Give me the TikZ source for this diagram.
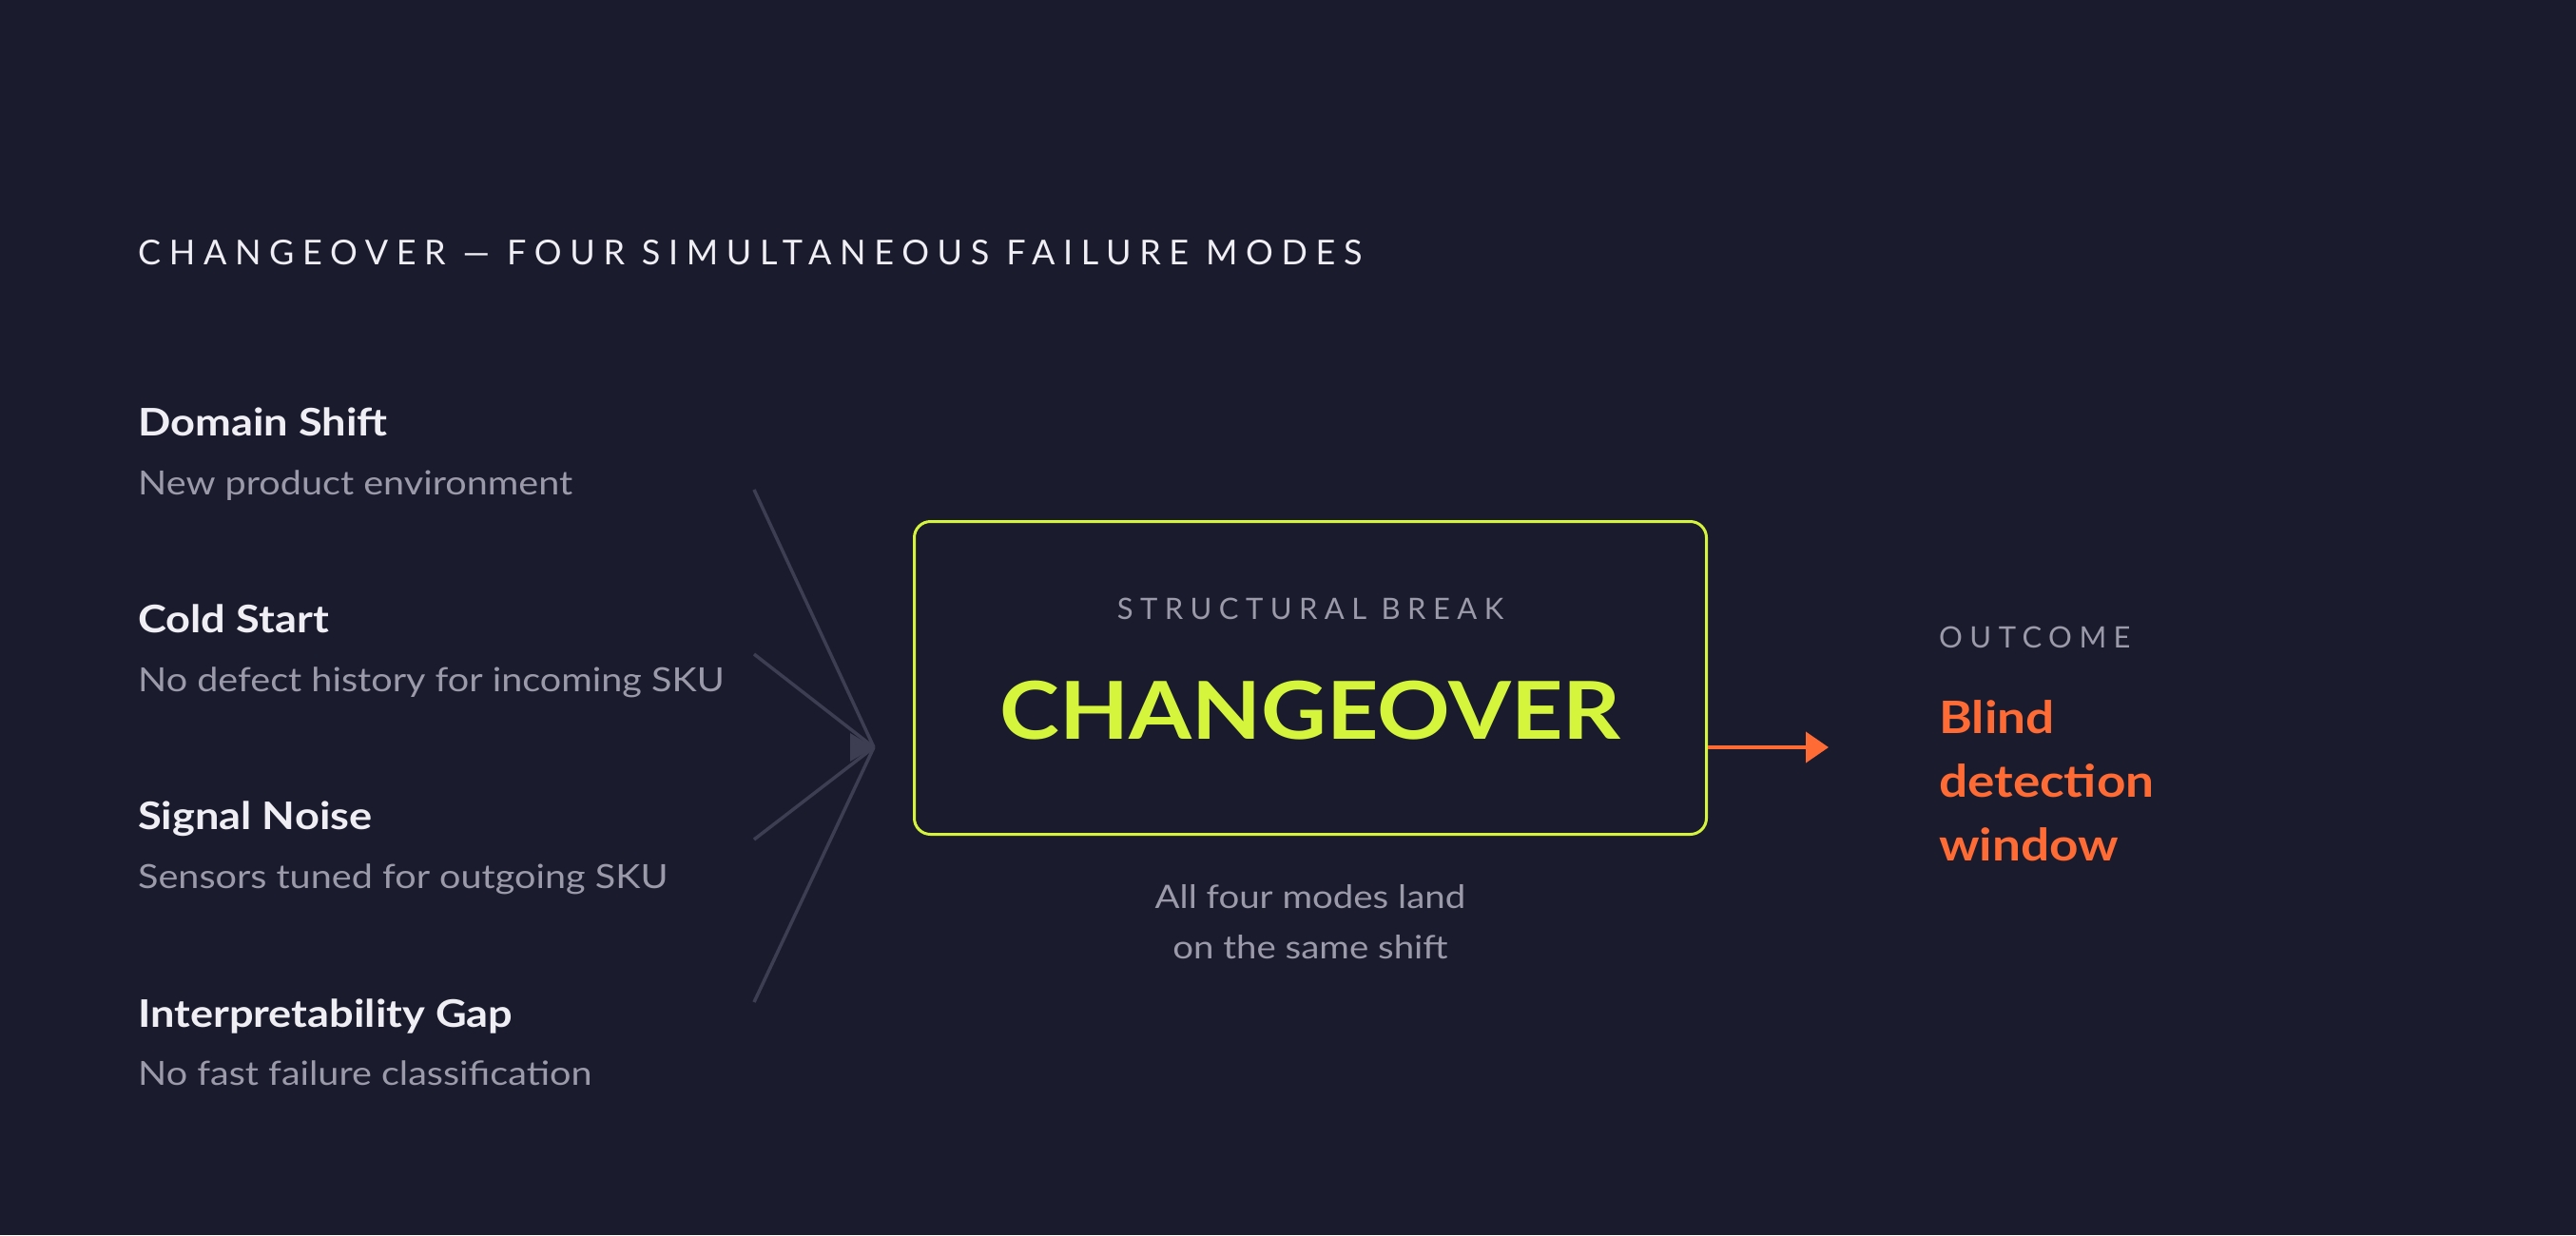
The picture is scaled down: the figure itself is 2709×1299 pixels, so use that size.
\documentclass[tikz,border=0pt]{standalone}
\usepackage{fontspec}
\setmainfont[FakeStretch=1.13]{Lato}
\newfontfamily\spacedfont[LetterSpace=24]{Lato}
\usetikzlibrary{arrows.meta, positioning}
\definecolor{bg}{HTML}{1B1B2E}
\definecolor{headtext}{HTML}{EEEEF4}
\definecolor{subgrey}{HTML}{9A9AAA}
\definecolor{linegrey}{HTML}{3E3E52}
\definecolor{lime}{HTML}{D4F53C}
\definecolor{hot}{HTML}{FF6B35}

\begin{document}
\begin{tikzpicture}[x=1pt, y=-1pt,
    head/.style={anchor=base west, inner sep=0pt, text=headtext, font=\fontsize{40}{48}\selectfont\bfseries},
    sub/.style={anchor=base west, inner sep=0pt, text=subgrey, font=\fontsize{35}{42}\selectfont},
    feed/.style={draw=linegrey, line width=3.5pt},
    caps/.style={inner sep=0pt, text=subgrey, font=\fontsize{#1}{#1}\spacedfont}]
    \fill[bg] (0,0) rectangle (2709,1299);
    \useasboundingbox (0,0) rectangle (2709,1299);

    \node[anchor=base west, inner sep=0pt, text=headtext, font=\fontsize{36}{40}\spacedfont] (title) at (145,278) {CHANGEOVER — FOUR SIMULTANEOUS FAILURE MODES};

    % failure modes
    \node[head] (dom) at (145,458) {Domain Shift};
    \node[sub] (domsub) at (145,520) {New product environment};
    \node[head] (cold) at (145,665) {Cold Start};
    \node[sub] (coldsub) at (145,727) {No defect history for incoming SKU};
    \node[head] (sig) at (145,872) {Signal Noise};
    \node[sub] (sigsub) at (145,934) {Sensors tuned for outgoing SKU};
    \node[head] (gap) at (145,1080) {Interpretability Gap};
    \node[sub] (gapsub) at (145,1141) {No fast failure classification};

    \coordinate (hub) at (919,786);
    \foreach \y [count=\i] in {515,688,883,1054}
        \coordinate (in\i) at (793,\y);
    \foreach \i in {1,...,4}
        \draw[feed] (in\i) -- (hub);
    \fill[linegrey] (hub) -- ++(-25,-15) -- ++(0,30) -- cycle;

    % the break
    \node[draw=lime, line width=3pt, rounded corners=17pt, minimum width=833pt, minimum height=329pt] (brk) at (1378,713) {};
    \node[caps=31, anchor=base] (brklabel) at (1378,651) {STRUCTURAL BREAK};
    \node[anchor=base, inner sep=0pt, text=lime, font=\fontsize{84}{84}\selectfont\bfseries] (chg) at (1378,777) {CHANGEOVER};
    \node[anchor=north, inner sep=0pt, text=subgrey, align=center, font=\fontsize{34}{53}\selectfont] (note) at (1378,930) {All four modes land\\on the same shift};

    % outcome
    \coordinate (outtip) at (1923,786);
    \draw[hot, line width=4pt, -{Triangle[length=24pt, width=32pt]}] (outtip -| brk.east) -- (outtip);
    \node[caps=31, anchor=base west] (outlabel) at (2039,681) {OUTCOME};
    \node[anchor=north west, inner sep=0pt, text=hot, align=left, font=\fontsize{47}{67}\selectfont\bfseries] (blind) at (2039,736) {Blind\\detection\\window};
\end{tikzpicture}
\end{document}
